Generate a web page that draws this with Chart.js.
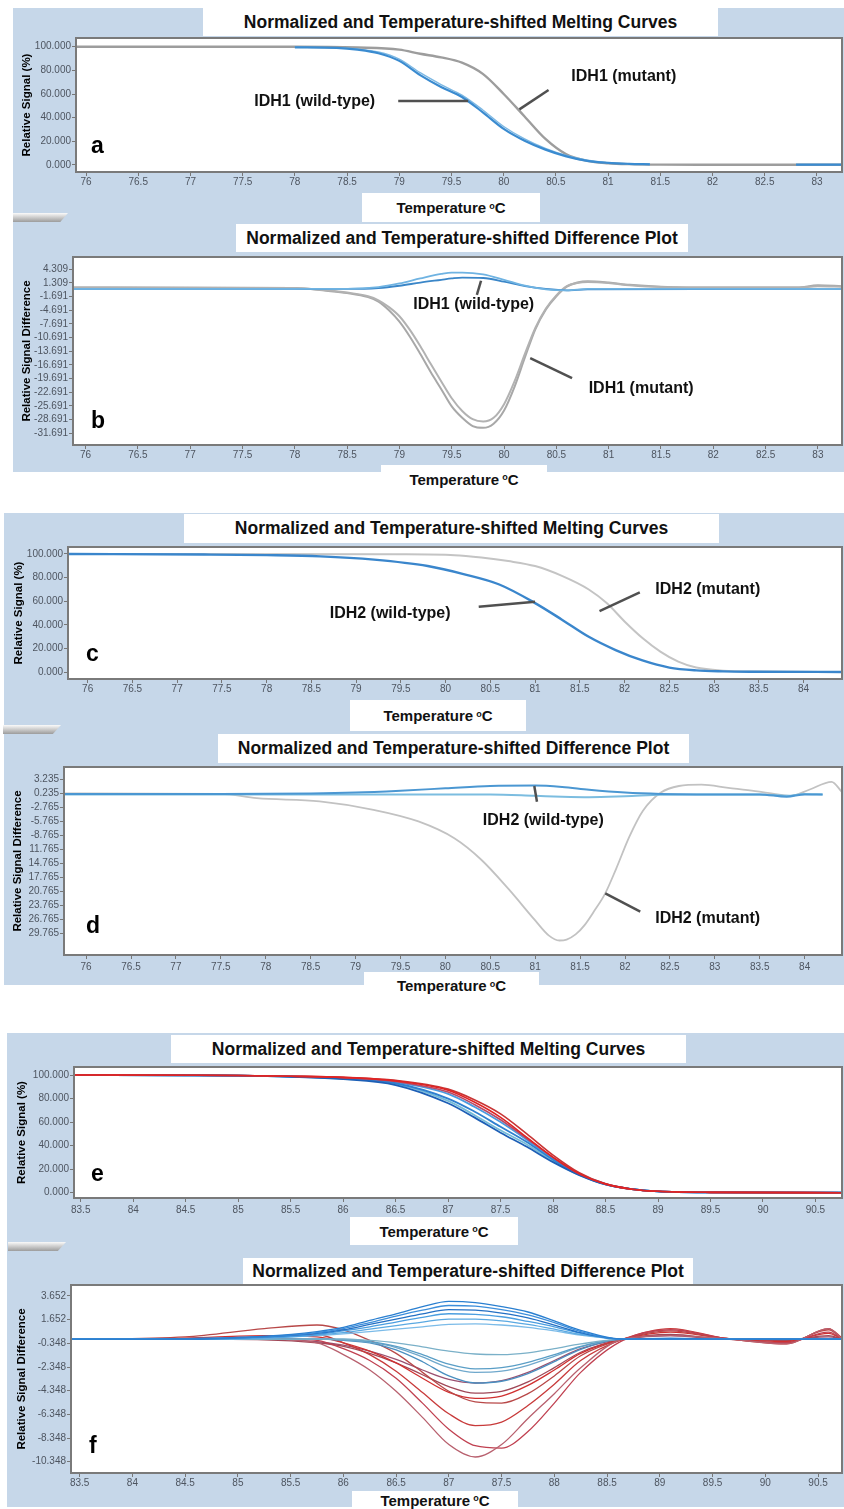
<!DOCTYPE html>
<html><head><meta charset="utf-8">
<script src="https://cdn.jsdelivr.net/npm/chart.js@4.4.1/dist/chart.umd.min.js"></script>
<style>
html,body{margin:0;padding:0;background:#fff;}
body{width:844px;height:1509px;position:relative;overflow:hidden;font-family:"Liberation Sans",Arial,sans-serif;}
.bg{position:absolute;background:#c6d7e9;}
.box{position:absolute;background:#fff;display:flex;align-items:center;justify-content:center;font-weight:bold;color:#111;white-space:nowrap;}
.title{font-size:17.5px;}
.xt{font-size:15px;}
.xt sup{font-size:9px;vertical-align:top;position:relative;top:-2px;margin-left:3px;}
.tab{position:absolute;height:9px;background:linear-gradient(#fafafa,#9c9c9c);clip-path:polygon(0 0,100% 0,86% 100%,0 100%);}
.lbl{position:absolute;font-weight:bold;font-size:23px;line-height:23px;color:#000;z-index:5;}
canvas{position:absolute;left:0;z-index:2;}
</style></head>
<body>
<div class="bg" style="left:13px;top:8px;width:831px;height:464px"></div>
<div class="bg" style="left:4px;top:513px;width:840px;height:472px"></div>
<div class="bg" style="left:7px;top:1033px;width:837px;height:474px"></div>

<div class="tab" style="left:13px;top:213px;width:55px"></div>
<div class="tab" style="left:3px;top:725px;width:58px"></div>
<div class="tab" style="left:8px;top:1242px;width:58px"></div>

<div class="box title" style="left:203px;top:8px;width:515px;height:28px">Normalized and Temperature-shifted Melting Curves</div>
<div class="box title" style="left:236px;top:224px;width:452px;height:28px">Normalized and Temperature-shifted Difference Plot</div>
<div class="box title" style="left:184px;top:514px;width:535px;height:29px">Normalized and Temperature-shifted Melting Curves</div>
<div class="box title" style="left:218px;top:734px;width:471px;height:29px">Normalized and Temperature-shifted Difference Plot</div>
<div class="box title" style="left:171px;top:1035px;width:515px;height:28px">Normalized and Temperature-shifted Melting Curves</div>
<div class="box title" style="left:243px;top:1258px;width:450px;height:26px">Normalized and Temperature-shifted Difference Plot</div>

<div class="box xt" style="left:362px;top:193px;width:178px;height:29px">Temperature<sup>o</sup>C</div>
<div class="box xt" style="left:381px;top:465px;width:166px;height:28px">Temperature<sup>o</sup>C</div>
<div class="box xt" style="left:350px;top:700px;width:176px;height:31px">Temperature<sup>o</sup>C</div>
<div class="box xt" style="left:364px;top:972px;width:175px;height:27px">Temperature<sup>o</sup>C</div>
<div class="box xt" style="left:350px;top:1217px;width:168px;height:28px">Temperature<sup>o</sup>C</div>
<div class="box xt" style="left:352px;top:1491px;width:166px;height:18px">Temperature<sup>o</sup>C</div>

<div class="lbl" style="left:91px;top:134px">a</div>
<div class="lbl" style="left:91px;top:409px">b</div>
<div class="lbl" style="left:86px;top:642px">c</div>
<div class="lbl" style="left:86px;top:914px">d</div>
<div class="lbl" style="left:91px;top:1162px">e</div>
<div class="lbl" style="left:89px;top:1434px">f</div>

<script>
// ---------------- DATA ----------------
// Tick values / labels
const abXTicks = [76,76.5,77,77.5,78,78.5,79,79.5,80,80.5,81,81.5,82,82.5,83];
const cdXTicks = [76,76.5,77,77.5,78,78.5,79,79.5,80,80.5,81,81.5,82,82.5,83,83.5,84];
const efXTicks = [83.5,84,84.5,85,85.5,86,86.5,87,87.5,88,88.5,89,89.5,90,90.5];
const signalTicks = [0,20,40,60,80,100];
const signalLabels = ['0.000','20.000','40.000','60.000','80.000','100.000'];
const bYTicks = [4.309,1.309,-1.691,-4.691,-7.691,-10.691,-13.691,-16.691,-19.691,-22.691,-25.691,-28.691,-31.691];
const bYLabels = ['4.309','1.309','-1.691','-4.691','-7.691','-10.691','-13.691','-16.691','-19.691','-22.691','-25.691','-28.691','-31.691'];
const dYTicks = [3.235,0.235,-2.765,-5.765,-8.765,-11.765,-14.765,-17.765,-20.765,-23.765,-26.765,-29.765];
const dYLabels = ['3.235','0.235','-2.765','-5.765','-8.765','11.765','14.765','17.765','20.765','23.765','26.765','29.765'];
const fYTicks = [3.652,1.652,-0.348,-2.348,-4.348,-6.348,-8.348,-10.348];
const fYLabels = ['3.652','1.652','-0.348','-2.348','-4.348','-6.348','-8.348','-10.348'];

// Panel a : IDH1 melting curves
const aWtTemp = [78.0,78.4,78.6,78.8,79.0,79.2,79.4,79.6,79.8,80.0,80.2,80.4,80.6,80.8,81.0,81.2,81.4,81.45,82.8,83.24];
const aWt1 = [99.5,99,97.5,94.5,88,76,66,57.5,44.5,30.5,20.5,13,7.3,3.5,1.8,1.0,0.6,null,0.3,0.3];
const aWt2 = [99.5,99.2,98,95.5,89.5,78,68,59,46.5,32.5,22,14,8,4,2,1.1,0.6,null,0.3,0.3];
const aMutTemp = [75.9,78.0,78.6,79.0,79.2,79.4,79.6,79.8,80.0,80.2,80.4,80.6,80.8,81.0,81.2,81.5,82.0,83.24];
const aMut = [100,100,99.3,97.5,94,91,86.5,77,60,41,22,9,3.5,1.5,0.7,0.3,0.2,0.2];

// Panel b : IDH1 difference plot
const bMutTemp = [75.88,78.0,78.3,78.5,78.7,78.8,78.9,79.0,79.1,79.2,79.3,79.4,79.5,79.6,79.7,79.8,79.9,80.0,80.1,80.2,80.3,80.4,80.5,80.6,80.7,80.8,81.0,81.2,81.5,82.0,82.8,83.0,83.23];
const bMut1 = [0.3,0.2,-0.4,-0.9,-1.8,-2.8,-4.7,-7.2,-10.5,-14.3,-18.3,-22.0,-25.8,-28.3,-30.1,-30.5,-29.6,-26.7,-21.5,-15.0,-8.8,-4.5,-1.6,0.5,1.4,1.7,1.4,0.9,0.5,0.3,0.3,0.8,0.6];
const bMut2 = [0.3,0.2,-0.3,-0.8,-1.6,-2.5,-4.0,-6.0,-9.0,-12.6,-16.5,-20.3,-24.0,-26.8,-28.6,-29.1,-28.3,-25.3,-20.3,-14.2,-8.5,-4.3,-1.4,0.6,1.3,1.5,1.3,0.8,0.4,0.3,0.3,0.6,0.5];
const bWtTemp = [75.88,78.5,78.8,79.0,79.2,79.4,79.5,79.6,79.8,80.0,80.2,80.4,80.6,80.8,83.23];
const bWt1 = [0,0,0.4,1.2,2.3,3.3,3.6,3.6,3.2,2.0,0.7,-0.1,-0.3,0,0];
const bWt2 = [0,0,0.2,0.7,1.4,2.0,2.3,2.5,2.4,1.6,0.6,0,-0.3,-0.1,0];

// Panel c : IDH2 melting curves
const cWtTemp = [75.78,77.3,78.0,78.6,79.2,79.8,80.2,80.6,81.0,81.3,81.6,81.9,82.2,82.5,82.8,83.1,83.4,84.43];
const cWt = [100,99.5,99,98,95.2,89.8,83,74.2,58.5,44.5,30,18.8,10,4,1.6,0.8,0.5,0.3];
const cMutTemp = [75.78,79.5,80.1,80.4,80.7,81.0,81.3,81.6,81.8,82.0,82.2,82.4,82.6,82.8,83.1,83.5,84.43];
const cMut = [100,99.7,99,97,94,89.8,81.5,70,58.5,43,29,17.5,9,4,1.4,0.6,0.3];

// Panel d : IDH2 difference plot
const dMutTemp = [75.75,77.5,77.9,78.6,79.2,79.7,80.1,80.4,80.7,81.0,81.15,81.27,81.35,81.45,81.55,81.65,81.78,81.9,82.05,82.2,82.4,82.6,82.85,83.15,83.45,83.7,83.85,84.05,84.3,84.416];
const dMut = [0.2,0.1,-0.8,-1.5,-3.3,-5.8,-9.4,-14.0,-20.2,-27.0,-30.2,-31.3,-31.1,-30.0,-28.0,-25.2,-21.2,-16.0,-9.0,-3.5,0.4,1.8,2.1,1.4,0.7,0.0,-0.3,1.0,2.7,0.5];
const dWtTemp = [75.75,77.5,78.5,79.0,79.5,80.0,80.5,81.0,81.3,81.6,82.0,82.4,82.8,83.5,83.8,84.0,84.2];
const dWt1 = [0.1,0.1,0.2,0.4,0.8,1.3,1.8,1.9,1.6,1.0,0.4,0.1,0,0,-0.5,0,0];
const dWt2 = [0,0,0,0,0,0,0,-0.3,-0.5,-0.6,-0.4,-0.1,0,0,-0.3,0.1,0];

// Panel e : melting curves of samples
const eTemp = [83.44,84.5,85.0,85.5,86.0,86.5,87.0,87.25,87.5,87.75,88.0,88.25,88.5,88.75,89.0,89.5,90.75];
const eRed1 = [100,99.8,99.6,99,98,95,87,77,64,47,30,16,7.5,3,1.2,0.3,0];
const eRed2 = [100,99.8,99.6,99,98,95.5,88,79,67,50,32,17,7.5,3,1.2,0.3,0];
const eRed3 = [100,99.8,99.6,98.9,97.8,94.5,85.5,75,62,46,30,16,7.3,3,1.2,0.3,0];
const eBlue1 = [100,99.8,99.5,98.5,96.5,91.5,76,64,51,39,26,15,7,3,1.2,0.3,0];
const eBlue2 = [100,99.8,99.5,98.7,97,93,80,69,56,43,28,15.5,7,3,1.2,0.3,0];
const eBlue3 = [100,99.8,99.5,98.8,97.5,94,84,73,60,45,29,16,7.5,3,1.2,0.3,0];
const eBlue4 = [100,99.8,99.5,98.6,96.8,92.5,78,66,53,41,27,15,7,3,1.2,0.3,0];

// Panel f : difference plot of samples
const fTemp = [83.42,84.5,85.25,85.75,86,86.25,86.5,86.75,87,87.25,87.5,87.75,88,88.25,88.65,89.1,89.6,90.2,90.6,90.73];
const fBlue1 = [0,0.05,0.25,0.65,1.0,1.6,2.15,2.75,3.2,3.1,2.75,2.3,1.55,0.75,0,0.1,0,0,0,0];
const fBlue2 = [0,0.05,0.2,0.55,0.9,1.4,1.95,2.45,2.85,2.8,2.5,2.05,1.4,0.65,0,0.05,0,0,0,0];
const fBlue3 = [0,0,0.2,0.5,0.8,1.25,1.7,2.15,2.5,2.45,2.2,1.8,1.2,0.55,0,0,0,0,0,0];
const fBlue4 = [0,0,0.15,0.4,0.7,1.05,1.45,1.85,2.15,2.1,1.9,1.5,1.05,0.5,0,0,0,0,0,0];
const fBlue5 = [0,0,0.1,0.35,0.55,0.85,1.15,1.45,1.7,1.7,1.55,1.25,0.85,0.4,0,0,0,0,0,0];
const fBlue6 = [0,0,0.1,0.3,0.45,0.65,0.85,1.05,1.25,1.3,1.2,1.0,0.7,0.35,0,0,0,0,0,0];
const fTeal1 = [0,0,0,0,0,-0.1,-0.3,-0.65,-1.0,-1.25,-1.3,-1.15,-0.8,-0.4,0,0,0,0,0,0];
const fTeal2 = [0,0,0,0,0,-0.2,-0.6,-1.3,-2.1,-2.5,-2.4,-1.95,-1.3,-0.6,0,0,0,0,0,0];
const fTeal3 = [0,0,0,0,-0.05,-0.25,-0.7,-1.5,-2.4,-2.8,-2.7,-2.2,-1.45,-0.65,0,0,0,0,0,0];
const fTeal4 = [0,0,0,0,-0.1,-0.3,-0.9,-1.9,-3.1,-3.7,-3.55,-2.9,-1.9,-0.85,0,0,0,0,0,0];
const fRed1 = [0,0,0,-0.3,-1.3,-2.6,-4.4,-6.6,-8.9,-9.95,-8.9,-6.7,-4.6,-2.4,0,0.3,0.05,-0.4,0.9,0];
const fRed2 = [0,0,0.1,-0.1,-0.8,-1.8,-3.3,-5.4,-7.6,-9.0,-9.2,-7.8,-5.4,-2.8,-0.1,0.8,0.1,-0.3,0.6,0];
const fRed3 = [0,0,0.2,0.4,-0.3,-1.3,-2.7,-4.5,-6.3,-7.3,-7.0,-5.6,-3.8,-1.8,0,0.9,0.1,-0.4,0.9,0.1];
const fRed4 = [0,0.2,0.9,1.2,0.8,-0.1,-1.2,-2.8,-4.4,-5.3,-5.4,-4.6,-3.1,-1.4,0,0.7,0.1,-0.3,0.8,0];
const fRed5 = [0,0.1,0.3,0.2,-0.3,-1.0,-2.0,-3.3,-4.5,-5.0,-4.8,-3.9,-2.6,-1.2,0,0.6,0.1,-0.2,0.5,0];
const fRed6 = [0,0,-0.05,-0.3,-0.6,-1.2,-2.0,-3.0,-4.0,-4.55,-4.4,-3.6,-2.4,-1.1,0,0.4,0,-0.1,0.3,0];
const fRed7 = [0,0,0,-0.2,-0.5,-1.0,-1.7,-2.6,-3.4,-3.7,-3.5,-2.8,-1.8,-0.8,0,0.3,0,0,0.2,0];

// Callout annotations (data coordinates)
const aCallouts = [
  {text:'IDH1 (wild-type)', x:78.19, y:54, line:[78.99,54,79.66,54]},
  {text:'IDH1 (mutant)', x:81.15, y:75, line:[80.43,63.4,80.15,47]}
];
const bCallouts = [
  {text:'IDH1 (wild-type)', x:79.71, y:-3.4, line:[79.78,1.8,79.74,-1.3]},
  {text:'IDH1 (mutant)', x:81.31, y:-21.8, line:[80.25,-15.2,80.65,-19.6]}
];
const cCallouts = [
  {text:'IDH2 (wild-type)', x:79.38, y:49.9, line:[80.37,55.5,81.0,59.7]},
  {text:'IDH2 (mutant)', x:82.93, y:69.6, line:[82.17,67.6,81.72,51.8]}
];
const dCallouts = [
  {text:'IDH2 (wild-type)', x:81.09, y:-5.63, line:[80.99,1.8,81.02,-1.56]},
  {text:'IDH2 (mutant)', x:82.92, y:-26.55, line:[81.78,-21.2,82.17,-25.1]}
];

// ---------------- RENDER ----------------
Chart.defaults.font.family = '"Liberation Sans", Arial, sans-serif';
Chart.defaults.animation = false;

function pts(xs, ys){ return xs.map((x,i)=>({x:x, y:ys[i]})); }
function line(xs, ys, color, w){
  return {data: pts(xs, ys), borderColor: color, borderWidth: w, pointRadius: 0,
          fill: false, cubicInterpolationMode: 'monotone', spanGaps: false};
}

const framePlugin = {
  id: 'frame',
  beforeDraw(chart){
    const a = chart.chartArea, ctx = chart.ctx;
    ctx.save(); ctx.fillStyle = '#ffffff';
    ctx.fillRect(a.left, a.top, a.right - a.left, a.bottom - a.top);
    ctx.restore();
  },
  afterDraw(chart){
    const a = chart.chartArea, ctx = chart.ctx;
    ctx.save(); ctx.strokeStyle = '#7a7a7a'; ctx.lineWidth = 2;
    ctx.strokeRect(a.left, a.top, a.right - a.left, a.bottom - a.top);
    ctx.restore();
  }
};
const calloutPlugin = {
  id: 'callouts',
  afterDatasetsDraw(chart, args, opts){
    const items = (opts && opts.items) || [];
    const ctx = chart.ctx, xs = chart.scales.x, ys = chart.scales.y;
    ctx.save();
    items.forEach(it => {
      if (it.line){
        ctx.strokeStyle = '#505050'; ctx.lineWidth = 2.5;
        ctx.beginPath();
        ctx.moveTo(xs.getPixelForValue(it.line[0]), ys.getPixelForValue(it.line[1]));
        ctx.lineTo(xs.getPixelForValue(it.line[2]), ys.getPixelForValue(it.line[3]));
        ctx.stroke();
      }
      ctx.fillStyle = '#111'; ctx.font = 'bold 16px "Liberation Sans", Arial, sans-serif';
      ctx.textAlign = 'center'; ctx.textBaseline = 'middle';
      ctx.fillText(it.text, xs.getPixelForValue(it.x), ys.getPixelForValue(it.y));
    });
    ctx.restore();
  }
};

function panel(g, xTicks, xLabels, yTicks, yLabels, yTitle, datasets, callouts){
  const cv = document.createElement('canvas');
  cv.width = 844; cv.height = g.h;
  cv.style.top = g.top + 'px';
  document.body.appendChild(cv);
  new Chart(cv, {
    type: 'line',
    data: {datasets: datasets},
    plugins: [framePlugin, calloutPlugin],
    options: {
      responsive: false, devicePixelRatio: 1, animation: false,
      layout: {padding: {top: g.padTop, right: 2, left: 0, bottom: 0}},
      plugins: {legend: {display: false}, tooltip: {enabled: false}, callouts: {items: callouts || []}},
      scales: {
        x: {
          type: 'linear', min: g.xMin, max: g.xMax,
          afterBuildTicks: s => { s.ticks = xTicks.map(v => ({value: v})); },
          afterFit: s => { s.height = g.xH; },
          ticks: {autoSkip: false, maxRotation: 0, minRotation: 0, padding: g.xPad,
                  font: {size: 10}, color: '#4e5560',
                  callback: (v, i) => xLabels[i]},
          grid: {drawOnChartArea: false, tickLength: 4, color: '#777'},
          border: {display: false}
        },
        y: {
          type: 'linear', min: g.yMin, max: g.yMax,
          afterBuildTicks: s => { s.ticks = yTicks.map(v => ({value: v})); },
          afterFit: s => { s.width = g.yW; },
          ticks: {autoSkip: false, padding: 1, font: {size: 10}, color: '#4e5560',
                  callback: (v, i) => yLabels[i]},
          grid: {drawOnChartArea: false, tickLength: 4, color: '#777'},
          border: {display: false},
          title: {display: true, text: yTitle, color: '#000',
                  font: {size: 11.5, weight: 'bold'}, padding: {top: g.tPad, bottom: 0}}
        }
      }
    }
  });
}

const abXLabels = abXTicks.map(String);
const cdXLabels = cdXTicks.map(String);
const efXLabels = efXTicks.map(String);

panel({top:30, h:160, padTop:8, yW:76, xH:18, xPad:0, tPad:20, xMin:75.904, xMax:83.24, yMin:-5.92, yMax:107.35},
  abXTicks, abXLabels, signalTicks, signalLabels, 'Relative Signal (%)',
  [line(aWtTemp, aWt1, '#3a8bd0', 2.2), line(aWtTemp, aWt2, '#7db8e3', 1.4), line(aMutTemp, aMut, '#9d9d9d', 2.4)],
  aCallouts);

panel({top:250, h:215, padTop:7, yW:73, xH:20, xPad:0, tPad:20, xMin:75.88, xMax:83.23, yMin:-34.26, yMax:7.01},
  abXTicks, abXLabels, bYTicks, bYLabels, 'Relative Signal Difference',
  [line(bWtTemp, bWt1, '#6fb3e2', 1.8), line(bWtTemp, bWt2, '#3a86c8', 1.8),
   line(bMutTemp, bMut2, '#b2b2b2', 2), line(bMutTemp, bMut1, '#a8a8a8', 2)],
  bCallouts);

panel({top:540, h:160, padTop:7, yW:68, xH:21, xPad:0, tPad:11.5, xMin:75.78, xMax:84.43, yMin:-5.66, yMax:105.9},
  cdXTicks, cdXLabels, signalTicks, signalLabels, 'Relative Signal (%)',
  [line(cWtTemp, cWt, '#3a86cc', 2.4), line(cMutTemp, cMut, '#c4c4c4', 2)],
  cCallouts);

panel({top:760, h:215, padTop:7, yW:64, xH:20, xPad:2, tPad:11, xMin:75.754, xMax:84.416, yMin:-34.41, yMax:5.87},
  cdXTicks, cdXLabels, dYTicks, dYLabels, 'Relative Signal Difference',
  [line(dWtTemp, dWt1, '#4b97d2', 2), line(dWtTemp, dWt2, '#7cbde0', 2), line(dMutTemp, dMut, '#c2c2c2', 1.8)],
  dCallouts);

panel({top:1060, h:160, padTop:7, yW:74, xH:22, xPad:2, tPad:15, xMin:83.436, xMax:90.753, yMin:-4.5, yMax:106.8},
  efXTicks, efXLabels, signalTicks, signalLabels, 'Relative Signal (%)',
  [line(eTemp, eRed1, '#e02424', 1.6), line(eTemp, eRed2, '#c83434', 1.6), line(eTemp, eRed3, '#b84a66', 1.6),
   line(eTemp, eBlue1, '#1d5fb6', 1.8), line(eTemp, eBlue2, '#2f80d0', 1.8), line(eTemp, eBlue3, '#4b9be0', 1.8),
   line(eTemp, eBlue4, '#75bcd8', 1.8)],
  []);

panel({top:1278, h:217, padTop:7, yW:71, xH:22, xPad:0, tPad:15, xMin:83.418, xMax:90.727, yMin:-11.303, yMax:4.581},
  efXTicks, efXLabels, fYTicks, fYLabels, 'Relative Signal Difference',
  [line(fTemp, fBlue1, '#2a7fd0', 1.3), line(fTemp, fBlue2, '#3c8edb', 1.3), line(fTemp, fBlue3, '#2470c4', 1.3),
   line(fTemp, fBlue4, '#4a9ee0', 1.3), line(fTemp, fBlue5, '#5aa9e2', 1.3), line(fTemp, fBlue6, '#7bbbe8', 1.3),
   line(fTemp, fTeal1, '#7ab0c8', 1.3), line(fTemp, fTeal2, '#5a9ec6', 1.3), line(fTemp, fTeal3, '#6fa8cc', 1.3),
   line(fTemp, fTeal4, '#4a8fc0', 1.3),
   line(fTemp, fRed1, '#b8606e', 1.3), line(fTemp, fRed2, '#c04050', 1.3), line(fTemp, fRed3, '#c83a3a', 1.3),
   line(fTemp, fRed4, '#b84848', 1.3), line(fTemp, fRed5, '#d03030', 1.3), line(fTemp, fRed6, '#a04858', 1.3),
   line(fTemp, fRed7, '#9a5070', 1.3)],
  []);
</script>
</body></html>
